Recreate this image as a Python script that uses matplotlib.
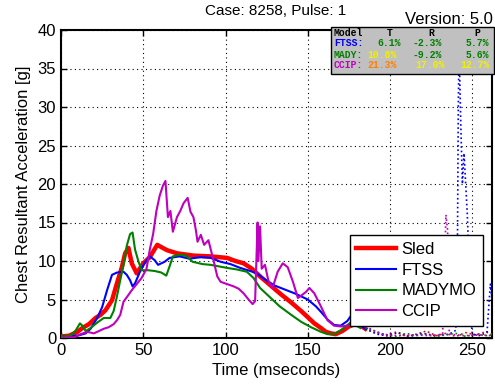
import numpy as np
import matplotlib
matplotlib.use("Agg")
import matplotlib.pyplot as plt
from matplotlib.patches import Rectangle

plt.rcParams['font.family'] = ['Liberation Sans', 'DejaVu Sans']

# --- data (time in ms, acceleration in g) ---
sled_t = [0, 5, 10, 13, 17, 21, 24, 27, 31, 34, 37, 39, 41, 43, 46, 50, 54, 58.5, 61, 64.5, 70.5, 80.5,
          91, 101, 106, 111, 116, 121, 127, 133, 140, 146, 150, 154, 158, 161, 164, 167, 171, 175, 180, 185]
sled_g = [0.2, 0.3, 0.8, 1.3, 1.8, 2.6, 3.0, 3.6, 4.9, 7.1, 9.2, 11.0, 11.7, 9.7, 8.4, 9.7, 10.5, 12.1, 11.8, 11.4,
          11.0, 10.7, 10.6, 10.4, 10.0, 9.7, 9.0, 8.0, 6.9, 5.8, 4.6, 3.5, 2.7, 1.9, 1.3, 0.8, 0.6, 0.5, 0.9, 1.5, 1.9, 1.2]

ftss_t = [0, 10, 15, 18, 22, 25, 28, 31, 34, 38, 40, 42, 43.5, 45, 48, 51, 54, 57, 59, 63, 66, 72, 78, 85,
          91, 97, 103, 109, 115, 119, 124, 130, 136, 142, 150, 155, 158, 162, 166, 170, 174, 176, 180, 185]
ftss_g = [0.2, 0.3, 0.6, 1.2, 2.6, 4.0, 6.2, 8.2, 8.5, 8.6, 8.2, 7.5, 6.7, 7.1, 8.6, 9.8, 10.6, 10.1, 9.5, 9.9,
          10.4, 10.6, 10.3, 10.5, 10.4, 9.9, 9.6, 9.1, 8.7, 8.4, 7.6, 6.8, 6.3, 5.8, 5.0, 4.1, 3.4, 2.4, 1.7,
          1.6, 2.2, 2.8, 1.9, 1.2]

mady_t = [0, 6, 9, 11.5, 13, 15, 18, 22, 26, 30, 32, 34, 36, 38, 40, 42, 43.5, 45, 47, 49, 53, 57, 61, 64,
          66, 68, 72, 76, 80, 86, 91, 96, 101, 107, 113, 117, 121, 127, 133, 140, 146, 152, 158, 162, 166,
          170, 176, 182]
mady_g = [0.2, 0.3, 1.0, 1.9, 1.6, 0.9, 1.3, 2.0, 2.6, 2.6, 3.5, 5.4, 7.5, 9.5, 12.0, 13.5, 13.7, 11.5, 10.0,
          8.8, 8.8, 8.7, 8.5, 8.1, 9.3, 10.6, 10.8, 10.7, 9.9, 9.6, 9.5, 9.3, 9.1, 8.9, 8.6, 7.8, 6.5, 5.3,
          4.1, 3.0, 2.1, 1.4, 0.8, 0.5, 0.5, 1.0, 2.0, 1.3]

ccip_t = [0, 8, 12, 16, 20, 23, 26, 29, 32, 34, 36, 38, 40, 43, 46, 49, 52, 54, 56, 58, 60, 62, 63.5, 65,
          66.5, 68, 70.5, 72.5, 74.5, 77, 78.7, 80.5, 82, 83, 85, 87, 89.6, 92.7, 95, 97, 101, 105, 108, 111,
          114, 116.5, 118, 119.5, 120, 121, 122, 124, 126, 128.6, 131.7, 134.8, 137.8, 141, 144, 146, 149,
          151, 154, 158, 162, 166, 170, 174, 180, 185]
ccip_g = [0.0, 0.1, 0.5, 0.8, 0.6, 0.9, 1.2, 1.4, 1.8, 2.3, 3.0, 4.7, 5.3, 6.2, 7.0, 7.8, 9.0, 11.5, 13.5,
          16.5, 18.5, 19.8, 20.4, 15.7, 16.5, 13.8, 15.7, 16.5, 17.5, 18.2, 16.4, 15.7, 14.0, 12.5, 13.4,
          12.1, 12.7, 10.1, 8.0, 7.3, 7.0, 6.7, 6.4, 5.8, 5.0, 4.4, 4.8, 15.0, 10.0, 14.5, 9.0, 9.5, 7.5,
          6.5, 8.6, 9.7, 9.2, 7.3, 5.2, 5.5, 6.0, 6.5, 5.8, 4.1, 2.3, 1.6, 1.5, 1.6, 1.8, 1.5]

# dotted tails after the comparison window
tail_t = [185, 192, 198, 204, 210, 216, 222, 228, 234, 240, 246, 252, 258, 262]
sled_tail = [1.2, 0.6, 0.3, 0.8, 0.2, 0.5, 0.9, 0.3, 0.6, 0.2, 0.7, 0.4, 0.8, 0.5]
mady_tail = [1.3, 0.8, 0.4, 0.2, 0.6, 0.3, 0.5, 0.2, 0.4, 0.6, 0.2, 0.5, 0.3, 0.4]
ftss_tail_t = [185, 192, 198, 205, 212, 220, 228, 236, 240, 241, 241.5, 242, 243, 244, 245, 246, 247, 248,
               249, 250, 255, 259, 261, 262]
ftss_tail_g = [1.2, 0.5, 0.3, 0.7, 0.2, 0.6, 0.3, 0.5, 1.0, 12.0, 30.0, 37.5, 28.0, 20.0, 24.0, 20.0, 16.0,
               10.0, 3.0, 0.5, 0.3, 0.8, 7.0, 5.0]
ccip_tail_t = [185, 195, 205, 215, 225, 232, 234, 235, 236, 245, 255, 262]
ccip_tail_g = [1.5, 0.5, 0.3, 0.4, 0.3, 0.5, 16.0, 14.0, 0.5, 0.3, 0.4, 0.3]

series = ["Sled", "FTSS", "MADYMO", "CCIP"]
colors = ["#ff0000", "#0000ff", "#008000", "#bf00bf"]
widths = [3.2, 1.5, 1.5, 1.5]

# error table shown in the grey box
table_rows = ["FTSS:", "MADY:", "CCIP:"]
table_vals = [["6.1%", "-2.3%", "5.7%"], ["10.8%", "-9.2%", "5.6%"], ["21.3%", "17.0%", "12.7%"]]
table_cols = [["#008000", "#008000", "#008000"],
              ["#f0f000", "#008000", "#008000"],
              ["#ff8000", "#f0f000", "#f0f000"]]

W, H = 495, 387
fig = plt.figure(figsize=(W / 100, H / 100), dpi=100)
ax = fig.add_axes([61 / W, 1 - 338 / H, (492 - 61) / W, (338 - 30) / H])

curves = [(sled_t, sled_g, tail_t, sled_tail), (ftss_t, ftss_g, ftss_tail_t, ftss_tail_g),
          (mady_t, mady_g, tail_t, mady_tail), (ccip_t, ccip_g, ccip_tail_t, ccip_tail_g)]
for (t, g, tt, tg), name, c, lw in zip(curves, series, colors, widths):
    ax.plot(t, g, color=c, lw=lw, label=name, zorder=3)
    ax.plot(tt, tg, color=c, lw=1.2, ls=':', zorder=3)

ax.set_xlim(0, 262)
ax.set_ylim(0, 40)
ax.set_xticks(np.arange(0, 251, 50))
ax.set_yticks(np.arange(0, 41, 5))
ax.grid(True, color='black', ls=(0, (1, 3)), lw=0.8)
ax.set_axisbelow(True)
ax.tick_params(direction='in', top=True, right=True, labelsize=12, length=4, width=1)
for s in ax.spines.values():
    s.set_linewidth(1.5)
ax.set_xlabel("Time (mseconds)", fontsize=12, labelpad=4)
ax.set_ylabel("Chest Resultant Acceleration [g]", fontsize=12, labelpad=5)

fig.text(276 / W, 1 - 11 / H, "Case: 8258, Pulse: 1", ha='center', va='center', fontsize=11)
fig.text(493 / W, 1 - 20 / H, "Version: 5.0", ha='right', va='center', fontsize=12)

leg = ax.legend(loc='lower right', bbox_to_anchor=(0.998, 0.012), fontsize=12, fancybox=False,
                framealpha=1, edgecolor='black', handlelength=2.4, labelspacing=0.35,
                borderpad=0.4, handletextpad=0.3)
leg.get_frame().set_linewidth(1.0)
leg.set_zorder(5)

# grey statistics box
fig.patches.append(Rectangle((331 / W, 1 - 74 / H), (494 - 331) / W, (74 - 27) / H,
                             transform=fig.transFigure, facecolor='#c0c0c0', edgecolor='black',
                             lw=1, zorder=2))
mono = dict(family='Liberation Mono', fontweight='bold', fontsize=7, va='center', zorder=4)
for x, s in zip([334, 387, 428, 474], ["Model", "T", "R", "P"]):
    fig.text(x / W, 1 - 32.5 / H, s, color='black', **mono)
xs = [[377, 413, 466], [367, 413, 466], [367, 415, 460]]
for i, (lab, vals, cols) in enumerate(zip(table_rows, table_vals, table_cols)):
    y = 1 - (43.5 + 11 * i) / H
    fig.text(334 / W, y, lab, color=colors[i + 1] if i < 2 else colors[3], **mono)
    for x, v, c in zip(xs[i], vals, cols):
        fig.text(x / W, y, v, color=c, **mono)

fig.savefig("out.png", dpi=100)
